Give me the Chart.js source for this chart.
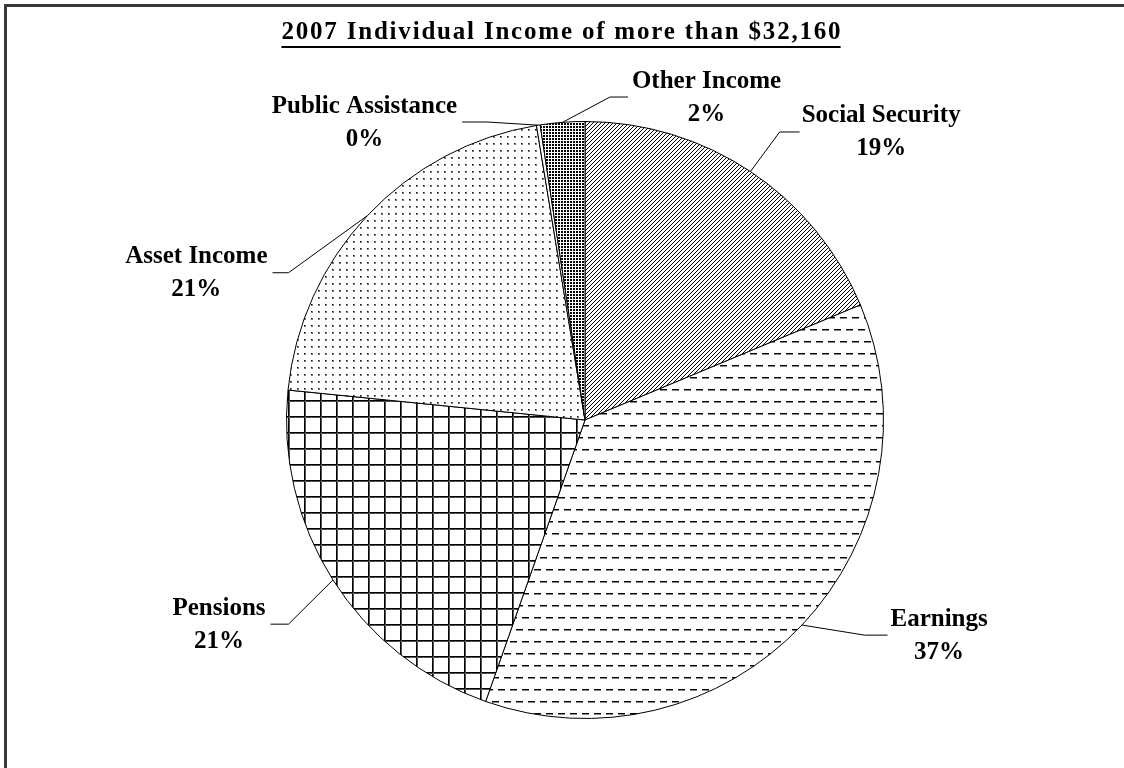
<!DOCTYPE html>
<html>
<head>
<meta charset="utf-8">
<script src="https://cdn.jsdelivr.net/npm/chart.js@4.4.0/dist/chart.umd.min.js"></script>
<style>
    html, body { margin: 0; padding: 0; background: #fff; }
    #chart { display: block; }
</style>
</head>
<body>
<canvas id="chart" width="1124" height="768"></canvas>
<script>
const chartTitle = "2007 Individual Income of more than $32,160";
const categories = ["Social Security", "Earnings", "Pensions", "Asset Income", "Public Assistance", "Other Income"];
const shares = [18.7, 36.7, 21.2, 20.8, 0.2, 2.4];

const serif = "'Liberation Serif', 'Times New Roman', serif";
const labelFont = `bold 25px ${serif}`;

// where each label sits, measured from the pie centre (pixels at a 299px radius)
const labelLayout = [
    { side: "right", textX: 217, elbowX: 195, endX: 215, y: -289 },
    { side: "right", textX: 306, elbowX: 280, endX: 303, y: 215 },
    { side: "left", textX: -320, elbowX: -297, endX: -315, y: 204 },
    { side: "left", textX: -318, elbowX: -297, endX: -313, y: -148 },
    { side: "left", textX: -128, elbowX: -98, endX: -123, y: -299 },
    { side: "right", textX: 47, elbowX: 25, endX: 43, y: -324 },
];

function makePattern(w, h, paint) {
    const tile = document.createElement("canvas");
    tile.width = w;
    tile.height = h;
    const t = tile.getContext("2d");
    t.fillStyle = "#fff";
    t.fillRect(0, 0, w, h);
    paint(t);
    return document.getElementById("chart").getContext("2d").createPattern(tile, "repeat");
}

const fills = [
    // upward diagonal hatch
    makePattern(4, 4, (t) => {
        t.fillStyle = "#000";
        for (let i = 0; i < 4; i++) t.fillRect(3 - i, i, 1, 1);
    }),
    // dashed horizontal
    makePattern(12, 24, (t) => {
        t.fillStyle = "#000";
        t.fillRect(0, 5, 7, 1);
        t.fillRect(6, 17, 6, 1);
        t.fillRect(0, 17, 1, 1);
        t.fillStyle = "#888";
        t.fillRect(0, 6, 7, 1);
        t.fillRect(6, 18, 6, 1);
        t.fillRect(0, 18, 1, 1);
    }),
    // square grid
    makePattern(16, 16, (t) => {
        t.fillStyle = "#000";
        t.fillRect(0, 0, 16, 1);
        t.fillRect(0, 0, 1, 16);
        t.fillStyle = "#555";
        t.fillRect(0, 1, 16, 1);
        t.fillRect(1, 0, 1, 16);
    }),
    // sparse dots
    makePattern(7, 7, (t) => {
        t.fillStyle = "#111";
        t.fillRect(3, 3, 1, 1);
        t.fillStyle = "#777";
        t.fillRect(4, 3, 1, 1);
        t.fillRect(3, 4, 1, 1);
        t.fillRect(4, 4, 1, 1);
    }),
    "#fff",
    // dense dark dots
    makePattern(3, 3, (t) => {
        t.fillStyle = "#000";
        t.fillRect(0, 0, 2, 2);
    }),
];

const piePainter = {
    id: "piePainter",
    beforeDraw(chart) {
        const ctx = chart.ctx;
        ctx.save();
        ctx.fillStyle = "#fff";
        ctx.fillRect(0, 0, chart.width, chart.height);
        ctx.restore();
    },
    afterDatasetsDraw(chart) {
        const ctx = chart.ctx;
        const meta = chart.getDatasetMeta(0);
        const total = shares.reduce((a, b) => a + b, 0);

        ctx.save();
        ctx.strokeStyle = "#000";
        ctx.fillStyle = "#000";
        ctx.lineWidth = 1;
        ctx.font = labelFont;
        ctx.textAlign = "center";
        ctx.textBaseline = "alphabetic";

        meta.data.forEach((arc, i) => {
            const { x, y, startAngle, endAngle, outerRadius } = arc.getProps(
                ["x", "y", "startAngle", "endAngle", "outerRadius"], true
            );
            const k = outerRadius / 299;
            const mid = (startAngle + endAngle) / 2;
            const place = labelLayout[i];
            const ly = y + place.y * k;

            ctx.beginPath();
            ctx.moveTo(x + Math.cos(mid) * outerRadius, y + Math.sin(mid) * outerRadius);
            ctx.lineTo(x + place.elbowX * k, ly + 0.5);
            ctx.lineTo(x + place.endX * k, ly + 0.5);
            ctx.stroke();

            const lines = [categories[i], `${Math.round((shares[i] / total) * 100)}%`];
            const blockW = Math.max(...lines.map((s) => ctx.measureText(s).width));
            const edge = x + place.textX * k;
            const cx = place.side === "right" ? edge + blockW / 2 : edge - blockW / 2;
            ctx.fillText(lines[0], cx, ly - 9);
            ctx.fillText(lines[1], cx, ly + 24);
        });

        // underlined title
        ctx.font = `bold 25px ${serif}`;
        ctx.letterSpacing = "1.8px";
        ctx.textAlign = "left";
        const tw = ctx.measureText(chartTitle).width - 1.8;
        const tx = chart.width / 2 - 1 - tw / 2;
        ctx.fillText(chartTitle, tx, 39);
        ctx.letterSpacing = "0px";
        ctx.fillRect(tx, 46, tw, 2);

        // outer frame, open to the right and bottom edges
        ctx.strokeStyle = "#3a3a3a";
        ctx.lineWidth = 3;
        ctx.strokeRect(5.5, 5.5, chart.width + 10, chart.height + 10);
        ctx.restore();
    },
};

new Chart(document.getElementById("chart"), {
    type: "pie",
    data: {
        labels: categories,
        datasets: [
            {
                data: shares,
                backgroundColor: fills,
                borderColor: "#000",
                borderWidth: 1,
                hoverOffset: 0,
                offset: 0,
            },
        ],
    },
    options: {
        responsive: false,
        animation: false,
        events: [],
        layout: {
            padding: { left: 286, top: 121, right: 240, bottom: 49 },
        },
        plugins: {
            legend: { display: false },
            title: { display: false },
            tooltip: { enabled: false },
        },
    },
    plugins: [piePainter],
});
</script>
</body>
</html>
